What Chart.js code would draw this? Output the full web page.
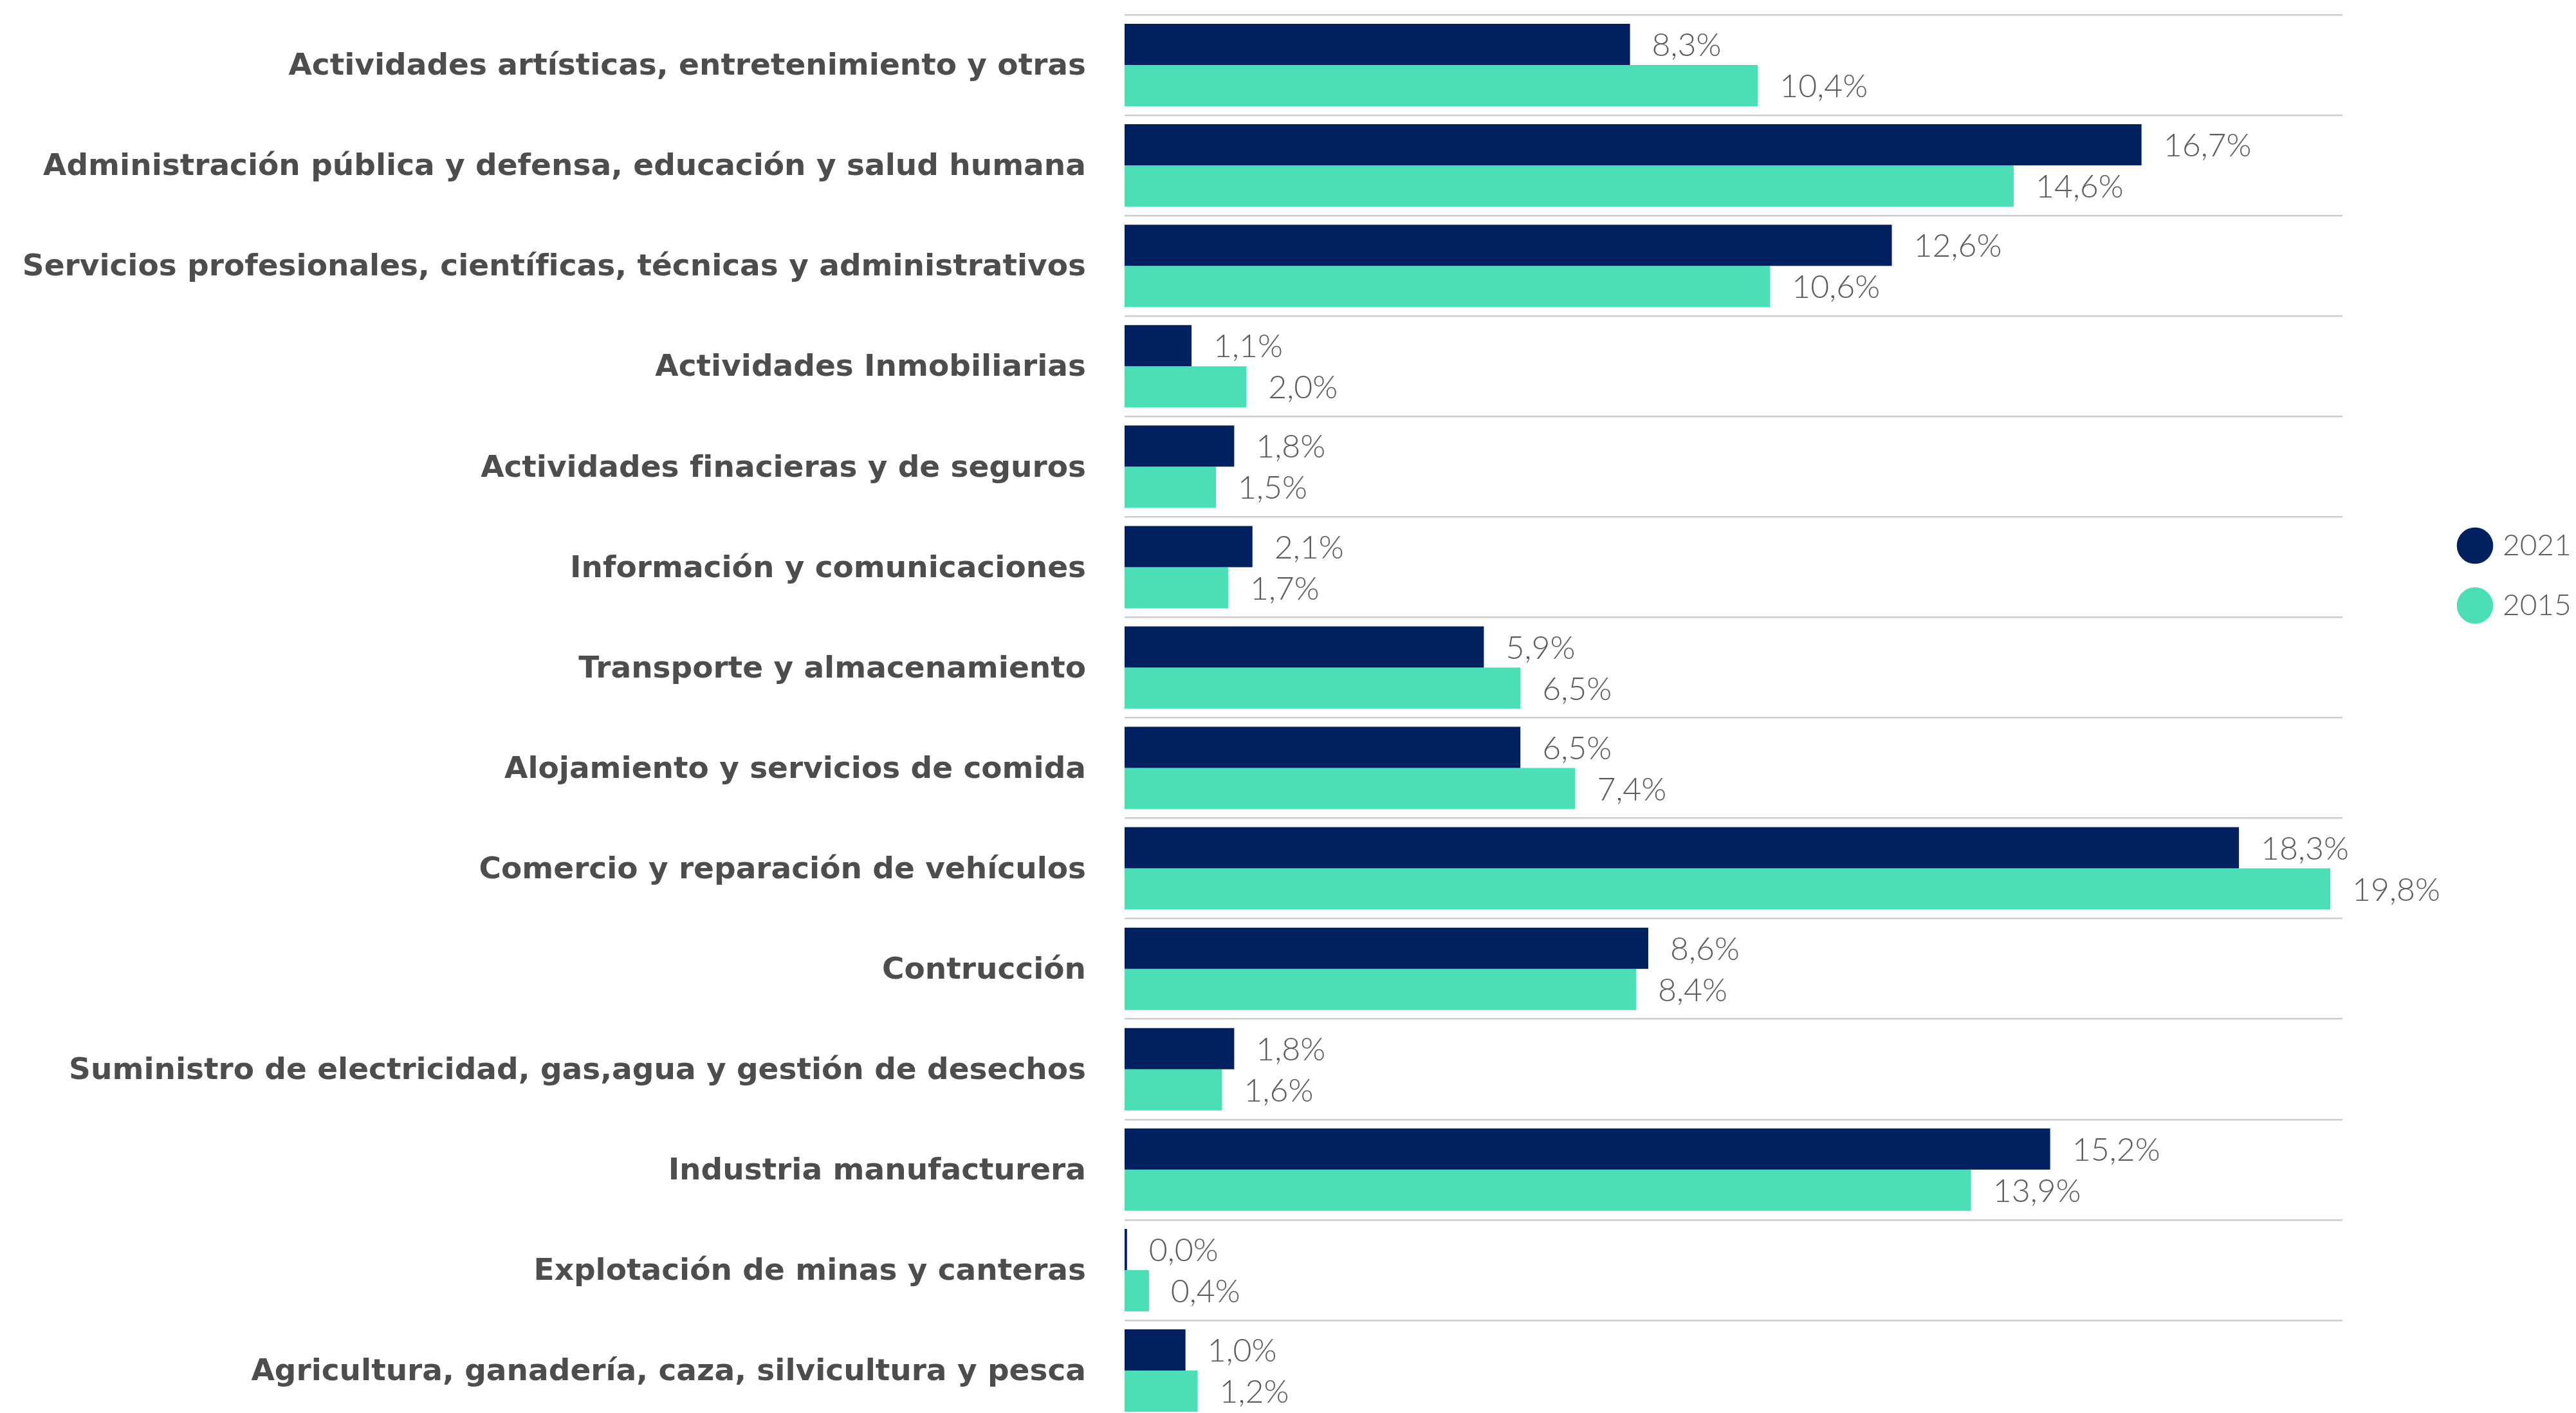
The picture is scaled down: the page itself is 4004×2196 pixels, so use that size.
<!DOCTYPE html>
<html lang="es">
<head>
<meta charset="utf-8">
<title>Participación por actividad económica 2021 vs 2015</title>
<script src="https://cdn.jsdelivr.net/npm/chart.js@4.4.1/dist/chart.umd.min.js"></script>
<style>
  html, body { margin: 0; padding: 0; background: #ffffff; overflow: hidden; }
  #wrap { position: relative; width: 4004px; height: 2208px; }
</style>
</head>
<body>
<div id="wrap"><canvas id="chart"></canvas></div>
<script>
const categories = [
    "Actividades artísticas, entretenimiento y otras",
    "Administración pública y defensa, educación y salud humana",
    "Servicios profesionales, científicas, técnicas y administrativos",
    "Actividades Inmobiliarias",
    "Actividades finacieras y de seguros",
    "Información y comunicaciones",
    "Transporte y almacenamiento",
    "Alojamiento y servicios de comida",
    "Comercio y reparación de vehículos",
    "Contrucción",
    "Suministro de electricidad, gas,agua y gestión de desechos",
    "Industria manufacturera",
    "Explotación de minas y canteras",
    "Agricultura, ganadería, caza, silvicultura y pesca"
];
const values2021 = [8.3, 16.7, 12.6, 1.1, 1.8, 2.1, 5.9, 6.5, 18.3, 8.6, 1.8, 15.2, 0.04, 1.0];
const values2015 = [10.4, 14.6, 10.6, 2.0, 1.5, 1.7, 6.5, 7.4, 19.8, 8.4, 1.6, 13.9, 0.4, 1.2];

const COLOR_2021 = "#002060";
const COLOR_2015 = "#4ADFB4";

// value labels to the right of each bar
const valueLabels = {
    id: "valueLabels",
    afterDatasetsDraw(chart) {
        const ctx = chart.ctx;
        ctx.save();
        ctx.font = "300 50px Lato, 'Open Sans', sans-serif";
        ctx.fillStyle = "#5c5c5c";
        ctx.textAlign = "left";
        ctx.textBaseline = "middle";
        chart.data.datasets.forEach((ds, i) => {
            const meta = chart.getDatasetMeta(i);
            meta.data.forEach((bar, j) => {
                const txt = ds.data[j].toFixed(1).replace(".", ",") + "%";
                ctx.fillText(txt, bar.x + 34, bar.y + 2);
            });
        });
        ctx.restore();
    }
};

new Chart(document.getElementById("chart"), {
    type: "bar",
    data: {
        labels: categories,
        datasets: [
            { label: "2021", data: values2021, backgroundColor: COLOR_2021, borderWidth: 0 },
            { label: "2015", data: values2015, backgroundColor: COLOR_2015, borderWidth: 0 }
        ]
    },
    options: {
        indexAxis: "y",
        responsive: true,
        maintainAspectRatio: false,
        animation: false,
        categoryPercentage: 0.82,
        barPercentage: 1,
        layout: { padding: { top: 23, right: 0, bottom: 0, left: 0 } },
        scales: {
            x: {
                display: false,
                min: 0,
                max: 20
            },
            y: {
                position: "left",
                afterFit: (s) => {
                    s.width = 1748;
                    s.paddingTop = 0;
                    s.paddingBottom = 0;
                },
                border: { display: false },
                grid: { color: "#cccccc", lineWidth: 2.5, drawTicks: false, offset: true },
                ticks: {
                    autoSkip: false,
                    padding: 60,
                    labelOffset: 3,
                    color: "#4d4d4d",
                    font: { family: "'DejaVu Sans', sans-serif", weight: "bold", size: 47 }
                }
            },
            // empty spacer between plot and legend
            y2: {
                type: "category",
                labels: categories,
                position: "right",
                afterFit: (s) => {
                    s.width = 139;
                    s.paddingTop = 0;
                    s.paddingBottom = 0;
                },
                border: { display: false },
                grid: { display: false },
                ticks: { display: false }
            }
        },
        plugins: {
            tooltip: { enabled: false },
            legend: {
                position: "right",
                align: "start",
                maxWidth: 224,
                title: { display: true, text: "", font: { size: 10, lineHeight: 1 }, padding: { top: 745, bottom: 0 } },
                labels: {
                    usePointStyle: true,
                    pointStyle: "circle",
                    boxWidth: 40,
                    boxHeight: 40,
                    padding: 47,
                    color: "#5c5c5c",
                    font: { family: "Lato, 'Open Sans', sans-serif", weight: "300", size: 46 }
                }
            }
        }
    },
    plugins: [valueLabels]
});
</script>
</body>
</html>
